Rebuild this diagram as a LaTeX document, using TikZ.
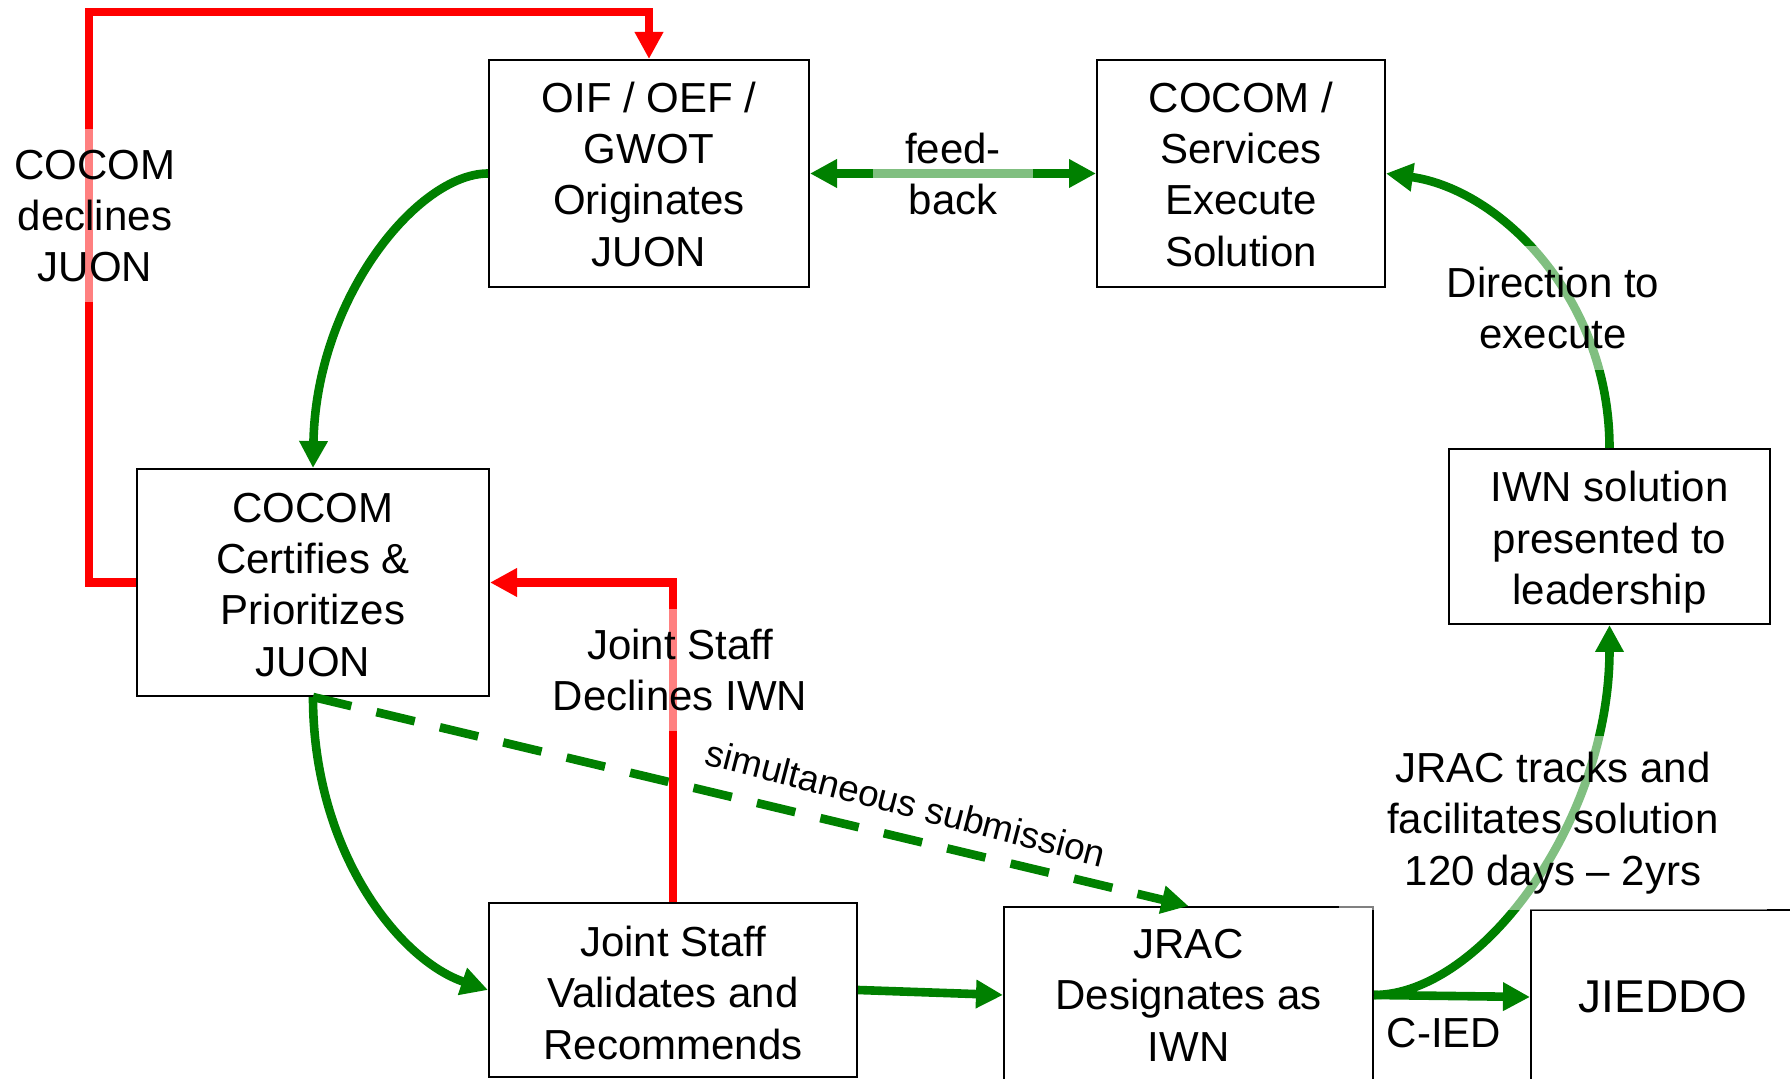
\documentclass[tikz,border=0pt]{standalone}
\usepackage{fontspec}
\setmainfont{Liberation Sans}
\usetikzlibrary{arrows.meta,calc}
\definecolor{gr}{RGB}{0,128,0}
\definecolor{rd}{RGB}{255,0,0}
\begin{document}
\begin{tikzpicture}[x=0.5pt,y=-0.5pt,
  every node/.style={font=\fontsize{21}{25.7}\selectfont},
  procbox/.style={draw=black,line width=1pt,align=center,inner sep=0pt},
  lbl/.style={fill=white,fill opacity=0.5,text opacity=1,align=center,inner sep=0pt},
  gline/.style={draw=gr,line width=4.3pt},
  garrow/.style={gline,-{Triangle[length=13.5pt,width=13.5pt]}},
  rarrow/.style={draw=rd,line width=4.3pt,-{Triangle[length=13.5pt,width=13.5pt]}},
]
\useasboundingbox (0,0) rectangle (1790,1079);
\clip (0,0) rectangle (1790,1079);

% boxes
\node[procbox,minimum width=160pt,minimum height=113.5pt] (oif) at (649,173.5) {\rule{0pt}{16pt}OIF / OEF /\\GWOT\\Originates\\JUON};
\node[procbox,minimum width=144pt,minimum height=113.5pt] (exec) at (1241,173.5) {\rule{0pt}{16pt}COCOM /\\Services\\Execute\\Solution};
\node[procbox,minimum width=176pt,minimum height=113.5pt] (cocom) at (313,582.5) {\rule{0pt}{17pt}COCOM\\Certifies \&\\Prioritizes\\JUON};
\node[procbox,minimum width=160.5pt,minimum height=87.5pt] (iwn) at (1609.5,536.5) {\rule{0pt}{21pt}IWN solution\\presented to\\leadership};
\node[procbox,minimum width=184pt,minimum height=87pt] (js) at (673,990) {\rule{0pt}{18pt}Joint Staff\\Validates and\\Recommends};
\node[procbox,minimum width=184.5pt,minimum height=88pt] (jrac) at (1188.5,995) {JRAC\\Designates as\\IWN};
\node[procbox,minimum width=132pt,minimum height=87pt,font=\fontsize{23}{28}\selectfont] (jieddo) at (1663,997) {JIEDDO};

% coordinate for red elbow
\coordinate (rl) at (89,12);

% red connectors
\draw[rarrow] (cocom.west) -| (rl) -| (oif.north);
\draw[rarrow] (js.north) |- (cocom.east);

% green connectors
\draw[garrow] (oif.west) .. controls +(-70,0) and +(3,-170) .. (cocom.north);
\draw[garrow] (cocom.south) .. controls +(0,154) and +(-89,-30) .. (js.west);
\draw[garrow,dash pattern=on 19.7pt off 12.9pt] (cocom.south) -- (jrac.north);
\draw[garrow] (js.east) -- (jrac.west);
\draw[garrow] (jrac.east) -- (jieddo.west);
\draw[garrow] (jrac.east) .. controls +(107,0) and +(0,196) .. (iwn.south);
\draw[garrow] (iwn.north) .. controls +(0,-149) and +(115,16) .. (exec.east);
\draw[gline,{Triangle[length=13.5pt,width=13.5pt]}-{Triangle[length=13.5pt,width=13.5pt]}] (oif.east) -- (exec.west);

% labels
\node[lbl,minimum width=80pt,minimum height=40pt] (fb) at (953,174) {feed-\\back};
\node[lbl,minimum width=70pt,minimum height=86.5pt] (cdl) at (95,216) {COCOM\\declines\\JUON};
\node[lbl,minimum width=70pt,minimum height=61pt] (jsd) at (680,670) {Joint Staff\\Declines IWN};
\node[lbl,minimum width=70pt,minimum height=62pt] (dir) at (1553,308) {Direction to\\execute};
\node[lbl,minimum width=214pt,minimum height=87pt] (trk) at (1553,823) {JRAC tracks and\\facilitates solution\\120 days – 2yrs};
\node[font=\fontsize{18.4}{22}\selectfont,rotate=-14.5] (sim) at (906,803) {simultaneous submission};
\node (cied) at (1444,1033) {C-IED};
\end{tikzpicture}
\end{document}
